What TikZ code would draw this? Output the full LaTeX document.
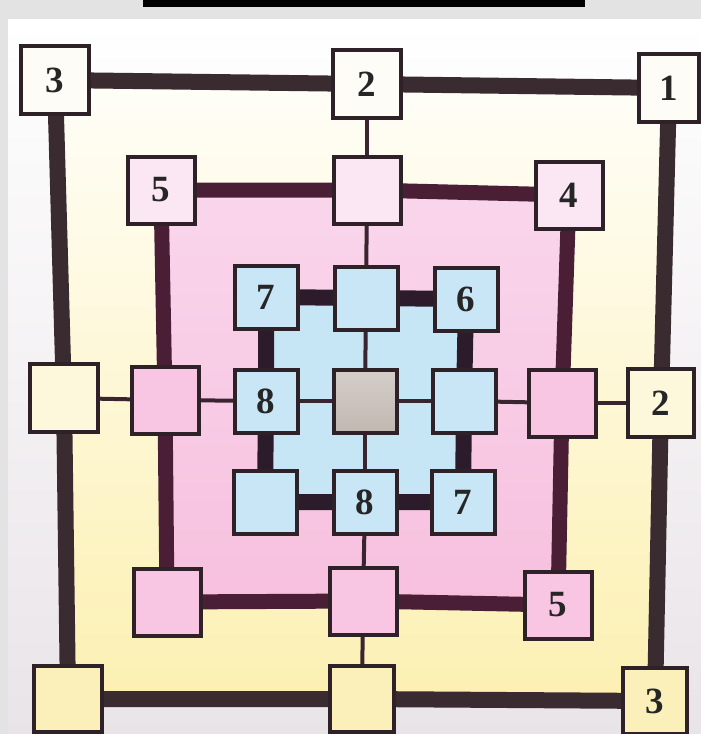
\documentclass[tikz,border=0pt]{standalone}
\usepackage{fontspec}
\setmainfont{Liberation Serif}
\definecolor{bggray}{HTML}{E3E3E3}
\definecolor{outbot}{HTML}{E9E4E8}
\definecolor{boxline}{HTML}{2E2228}
\definecolor{oline}{HTML}{3A2B30}
\definecolor{pline}{HTML}{4A1F35}
\definecolor{bline}{HTML}{2C1B2A}
\definecolor{thinline}{HTML}{3A2430}
\definecolor{ytop}{HTML}{FFFEF8}
\definecolor{ybot}{HTML}{FCF0B2}
\definecolor{ptop}{HTML}{F9D6EC}
\definecolor{pbot}{HTML}{F7C0DE}
\definecolor{blue}{HTML}{C6E6F6}
\definecolor{cgray}{HTML}{C2B8B2}
\definecolor{oboxT}{HTML}{FDFCF6}
\definecolor{oboxM}{HTML}{FDF7DC}
\definecolor{oboxB}{HTML}{FCF0BA}
\definecolor{pboxT}{HTML}{FBE6F3}
\definecolor{pboxB}{HTML}{F8C6E2}
\definecolor{bbox}{HTML}{C8E6F6}
\pgfdeclarelayer{base}
\pgfdeclarelayer{fills}
\pgfdeclarelayer{lines}
\pgfsetlayers{base,fills,lines,main}
\begin{document}
\begin{tikzpicture}[x=1pt,y=-1pt,
  box/.style={draw=boxline, line width=4pt, inner sep=0pt, text=black!85,
    font=\fontsize{37}{37}\selectfont\bfseries},
  obox/.style={box, minimum size=68pt},
  pbox/.style={box, minimum size=67pt},
  bbox/.style={box, minimum size=63pt, fill=bbox},
  othick/.style={draw=oline, line width=16pt},
  pthick/.style={draw=pline, line width=15pt},
  bthick/.style={draw=bline, line width=16pt},
  thin/.style={draw=thinline, line width=4pt}]
\useasboundingbox (0,0) rectangle (701,734);
\begin{pgfonlayer}{base}
\fill[bggray] (0,0) rectangle (701,734);
\fill[black] (143,0) rectangle (585,7);
\shade[top color=white, bottom color=outbot] (8,19) rectangle (701,734);
\end{pgfonlayer}

% outer ring
\node[obox, fill=oboxT] (o3) at (55,80) {3};
\node[obox, fill=oboxT] (o2t) at (367,84) {2};
\node[obox, fill=oboxT, minimum width=60pt] (o1) at (669,88) {1};
\node[obox, fill=oboxM] (olm) at (64,398) {};
\node[obox, fill=oboxM, minimum width=66pt] (o2r) at (661,403) {2};
\node[obox, fill=oboxB, minimum height=66pt] (obl) at (68,699) {};
\node[obox, fill=oboxB, minimum height=66pt, minimum width=64pt] (obm) at (362,699) {};
\node[obox, fill=oboxB, minimum height=66pt, minimum width=64pt] (o3b) at (655,701) {3};

% pink ring
\node[pbox, fill=pboxT] (p5) at (161,190) {5};
\node[pbox, fill=pboxT] (ptm) at (367,190) {};
\node[pbox, fill=pboxT] (p4) at (569,195) {4};
\node[pbox, fill=pboxB] (plm) at (165,400) {};
\node[pbox, fill=pboxB] (prm) at (562,403) {};
\node[pbox, fill=pboxB] (pbl) at (167,602) {};
\node[pbox, fill=pboxB] (pbm) at (363,601) {};
\node[pbox, fill=pboxB] (p5b) at (558,605) {5};

% blue ring
\node[bbox] (b7) at (266,297) {7};
\node[bbox] (btm) at (366,298) {};
\node[bbox] (b6) at (466,299) {6};
\node[bbox] (b8) at (266,401) {8};
\node[box, minimum size=63pt, top color=cgray!70, bottom color=cgray] (bc) at (365,401) {};
\node[bbox] (brm) at (464,401) {};
\node[bbox] (bbl) at (265,502) {};
\node[bbox] (b8b) at (365,502) {8};
\node[bbox] (b7b) at (463,502) {7};

\begin{pgfonlayer}{fills}
\shade[top color=ytop, bottom color=ybot] (o3.center) -- (o2t.center) -- (o1.center) -- (o2r.center) -- (o3b.center) -- (obm.center) -- (obl.center) -- (olm.center) -- cycle;
\shade[top color=ptop, bottom color=pbot] (p5.center) -- (ptm.center) -- (p4.center) -- (prm.center) -- (p5b.center) -- (pbm.center) -- (pbl.center) -- (plm.center) -- cycle;
\fill[blue] (b7.center) -- (btm.center) -- (b6.center) -- (brm.center) -- (b7b.center) -- (b8b.center) -- (bbl.center) -- (b8.center) -- cycle;
\end{pgfonlayer}

\begin{pgfonlayer}{lines}
\draw[othick] (o3.center) -- (o2t.center) -- (o1.center) -- (o2r.center) -- (o3b.center) -- (obm.center) -- (obl.center) -- (olm.center) -- cycle;
\draw[pthick] (p5.center) -- (ptm.center) -- (p4.center) -- (prm.center) -- (p5b.center) -- (pbm.center) -- (pbl.center) -- (plm.center) -- cycle;
\draw[bthick] (b7.center) -- (btm.center) -- (b6.center) -- (brm.center) -- (b7b.center) -- (b8b.center) -- (bbl.center) -- (b8.center) -- cycle;
\draw[thin] (o2t.center) -- (ptm.center);
\draw[thin] (ptm.center) -- (btm.center);
\draw[thin] (btm.center) -- (bc.center);
\draw[thin] (bc.center) -- (b8b.center);
\draw[thin] (b8b.center) -- (pbm.center);
\draw[thin] (pbm.center) -- (obm.center);
\draw[thin] (olm.center) -- (plm.center);
\draw[thin] (plm.center) -- (b8.center);
\draw[thin] (b8.center) -- (bc.center);
\draw[thin] (bc.center) -- (brm.center);
\draw[thin] (brm.center) -- (prm.center);
\draw[thin] (prm.center) -- (o2r.center);
\end{pgfonlayer}
\end{tikzpicture}
\end{document}
